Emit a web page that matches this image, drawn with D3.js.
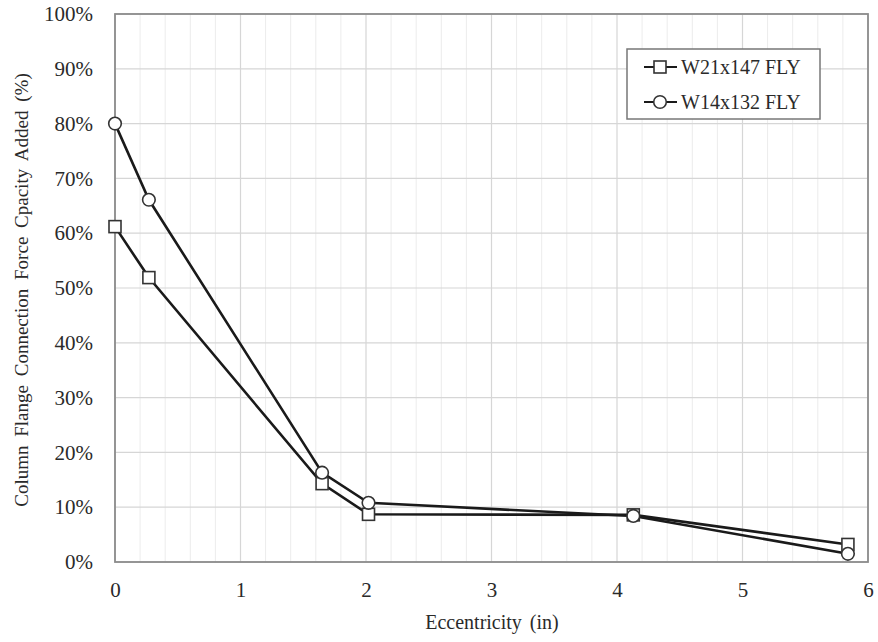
<!DOCTYPE html>
<html><head><meta charset="utf-8">
<script src="https://cdn.jsdelivr.net/npm/d3@7"></script>
<style>body{margin:0;background:#fff}svg{display:block}</style>
</head><body><svg id="c" width="878" height="642"></svg>
<script>
const seriesNames = ["W21x147 FLY", "W14x132 FLY"];
const eccentricity = [0, 0.27, 1.65, 2.02, 4.13, 5.84];
const w21x147 = [61.2, 51.9, 14.3, 8.7, 8.6, 3.2];
const w14x132 = [80.0, 66.1, 16.3, 10.8, 8.4, 1.5];
const xTicks = [0, 1, 2, 3, 4, 5, 6];
const yTicks = [0, 10, 20, 30, 40, 50, 60, 70, 80, 90, 100];

const FONT = "Liberation Serif";
const svg = d3.select("#c");
const m = {l:115, t:14, r:868, b:562};
const x = d3.scaleLinear().domain([0,6]).range([m.l, m.r]);
const y = d3.scaleLinear().domain([0,100]).range([m.b, m.t]);

const minor = d3.range(0, 6.001, 0.2).filter(v => Math.abs(v - Math.round(v)) > 1e-6);
svg.append("g").selectAll("line").data(minor).join("line")
  .attr("x1", d=>x(d)).attr("x2", d=>x(d)).attr("y1", m.t).attr("y2", m.b)
  .attr("stroke", "#ececec").attr("stroke-width", 1);
svg.append("g").selectAll("line").data(xTicks).join("line")
  .attr("x1", d=>x(d)).attr("x2", d=>x(d)).attr("y1", m.t).attr("y2", m.b)
  .attr("stroke", "#d6d6d6").attr("stroke-width", 1.2);
svg.append("g").selectAll("line").data(yTicks).join("line")
  .attr("x1", m.l).attr("x2", m.r).attr("y1", d=>y(d)).attr("y2", d=>y(d))
  .attr("stroke", "#d6d6d6").attr("stroke-width", 1.2);

const xAxis = svg.append("g").attr("transform", `translate(0,${m.b})`)
  .call(d3.axisBottom(x).tickValues(xTicks).tickSize(0).tickPadding(20).tickFormat(d3.format("d")));
xAxis.attr("font-family", FONT).attr("font-size", 21);
xAxis.select(".domain").remove();
xAxis.selectAll("text").attr("font-family", FONT).attr("font-size", 21).attr("fill","#2a2a2a");
const yAxis = svg.append("g").attr("transform", `translate(${m.l},0)`)
  .call(d3.axisLeft(y).tickValues(yTicks).tickSize(0).tickPadding(22).tickFormat(d => d + "%"));
yAxis.attr("font-family", FONT).attr("font-size", 21);
yAxis.select(".domain").remove();
yAxis.selectAll("text").attr("font-family", FONT).attr("font-size", 21).attr("fill","#2a2a2a");

svg.append("rect").attr("x", m.l).attr("y", m.t).attr("width", m.r-m.l).attr("height", m.b-m.t)
  .attr("fill","none").attr("stroke","#8c8c8c").attr("stroke-width",1.8);

const line = d3.line().x(d=>x(d[0])).y(d=>y(d[1]));
const s1 = eccentricity.map((e,i)=>[e, w21x147[i]]);
const s2 = eccentricity.map((e,i)=>[e, w14x132[i]]);
[s1, s2].forEach(s => svg.append("path").datum(s).attr("d", line)
  .attr("fill","none").attr("stroke","#1a1a1a").attr("stroke-width",2.6));

svg.append("g").selectAll("rect").data(s1).join("rect")
  .attr("x", d=>x(d[0])-6).attr("y", d=>y(d[1])-6).attr("width",12).attr("height",12)
  .attr("fill","#fff").attr("stroke","#333").attr("stroke-width",1.6);
svg.append("g").selectAll("circle").data(s2).join("circle")
  .attr("cx", d=>x(d[0])).attr("cy", d=>y(d[1])).attr("r",6.3)
  .attr("fill","#fff").attr("stroke","#333").attr("stroke-width",1.6);

const lg = svg.append("g");
lg.append("rect").attr("x",627).attr("y",49).attr("width",193).attr("height",70)
  .attr("fill","#fff").attr("stroke","#777").attr("stroke-width",1.5);
seriesNames.forEach((n,i) => {
  const cy = 67 + i*35;
  lg.append("line").attr("x1",644).attr("x2",677).attr("y1",cy).attr("y2",cy)
    .attr("stroke","#1a1a1a").attr("stroke-width",2.2);
  if (i===0) lg.append("rect").attr("x",654).attr("y",cy-6).attr("width",12).attr("height",12)
    .attr("fill","#fff").attr("stroke","#333").attr("stroke-width",1.6);
  else lg.append("circle").attr("cx",660).attr("cy",cy).attr("r",6.3)
    .attr("fill","#fff").attr("stroke","#333").attr("stroke-width",1.6);
  lg.append("text").attr("x",681).attr("y",cy).attr("dy","0.35em")
    .attr("font-family", FONT).attr("font-size", 20).attr("fill","#2a2a2a").text(n);
});

svg.append("text").attr("x", 492).attr("y", 629).attr("text-anchor","middle")
  .attr("font-family", FONT).attr("font-size", 20).attr("word-spacing", 3).attr("fill","#2a2a2a")
  .text("Eccentricity (in)");
svg.append("text").attr("transform","translate(28,290) rotate(-90)").attr("text-anchor","middle")
  .attr("font-family", FONT).attr("font-size", 19).attr("word-spacing", 4).attr("fill","#2a2a2a")
  .text("Column Flange Connection Force Cpacity Added (%)");
</script></body></html>
